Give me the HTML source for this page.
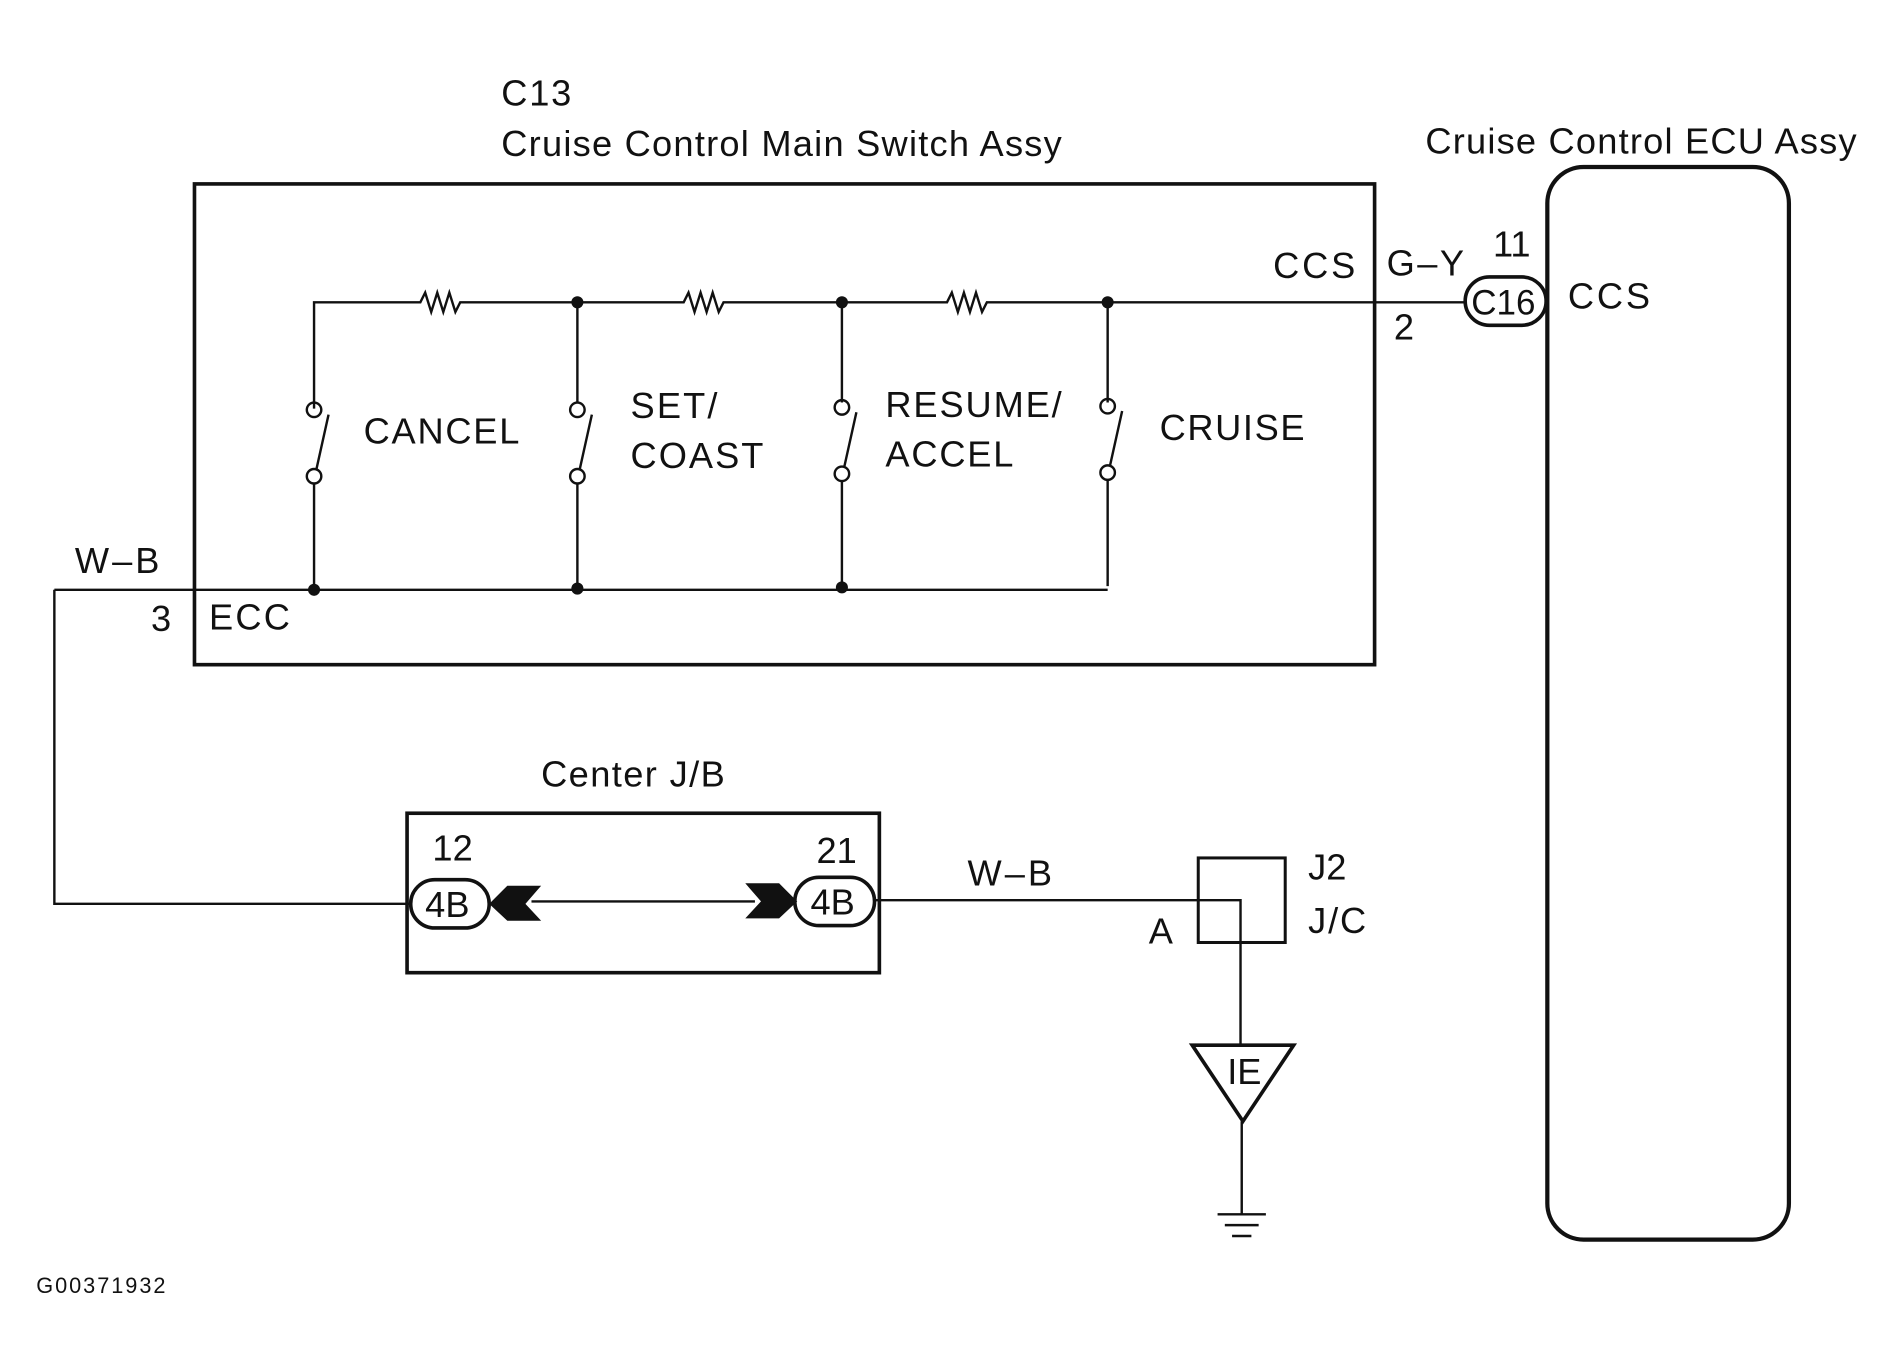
<!DOCTYPE html>
<html><head><meta charset="utf-8"><style>
html,body{margin:0;padding:0;background:#fff;}
svg{display:block;}
text{font-family:"Liberation Sans",sans-serif;fill:#111;}
</style></head><body>
<svg width="1894" height="1368" viewBox="0 0 1568 1132" xmlns="http://www.w3.org/2000/svg">
<g stroke="#111" fill="none" stroke-width="2">
<rect x="161" y="152" width="977" height="398" stroke-width="3"/>
<rect x="1281" y="138" width="200" height="888" rx="30" stroke-width="3.5"/>
<path d="M260 338 V250 H348 l4 -8 l5 16 l5 -16 l5 16 l5 -16 l5 16 l4 -8 H566 l4 -8 l5 16 l5 -16 l5 16 l5 -16 l5 16 l4 -8 H784 l4 -8 l5 16 l5 -16 l5 16 l5 -16 l5 16 l4 -8 H1213"/>
<path d="M478 250 V333 M697 250 V333 M917 250 V333"/>
<circle cx="260" cy="339" r="6"/><circle cx="260" cy="394" r="6"/><path d="M262 388 L272 343 M260 400 V487"/>
<circle cx="478" cy="339" r="6"/><circle cx="478" cy="394" r="6"/><path d="M480 388 L490 343 M478 400 V487"/>
<circle cx="697" cy="337" r="6"/><circle cx="697" cy="392" r="6"/><path d="M699 386 L709 341 M697 398 V487"/>
<circle cx="917" cy="336" r="6"/><circle cx="917" cy="391" r="6"/><path d="M919 385 L929 340 M917 397 V485"/>
<path d="M45 488 H917 M45 488 V748 H340"/>
<rect x="1213" y="229" width="67" height="40" rx="20" stroke-width="3"/>
<rect x="337" y="673" width="391" height="132" stroke-width="3"/>
<rect x="340" y="728" width="65" height="40" rx="20" stroke-width="3"/>
<rect x="658" y="726" width="66" height="40" rx="20" stroke-width="3"/>
<path d="M440 746 H625"/>
<path d="M724 745 H1027 V865"/>
<rect x="992" y="710" width="72" height="70" stroke-width="2.5"/>
<path d="M987 865 H1071 L1029 928 Z" stroke-width="3"/>
<path d="M1028 928 V1005 M1008 1005 H1048 M1014 1014 H1042 M1020 1023 H1036"/>
</g>
<g fill="#111">
<circle cx="478" cy="250" r="5"/><circle cx="697" cy="250" r="5"/><circle cx="917" cy="250" r="5"/>
<circle cx="260" cy="488" r="5"/><circle cx="478" cy="487" r="5"/><circle cx="697" cy="486" r="5"/>
<path d="M405 748 L420 733 H448 L435 748 L448 762 H420 Z"/>
<path d="M660 746 L645 731 H617 L630 746 L617 760 H645 Z"/>
</g>
<g font-size="30">
<text x="415" y="87" textLength="58">C13</text>
<text x="415" y="129" textLength="464">Cruise Control Main Switch Assy</text>
<text x="1180" y="127" textLength="357">Cruise Control ECU Assy</text>
<text x="301" y="367" textLength="129">CANCEL</text>
<text x="522" y="346" textLength="72">SET/</text>
<text x="522" y="387" textLength="110">COAST</text>
<text x="733" y="345" textLength="146">RESUME/</text>
<text x="733" y="386" textLength="106">ACCEL</text>
<text x="960" y="364" textLength="120">CRUISE</text>
<text x="1054" y="230" textLength="68">CCS</text>
<text x="1148" y="228" textLength="64">G–Y</text>
<text x="1236" y="212">11</text>
<text x="1154" y="281">2</text>
<text x="1218" y="260" font-size="29">C16</text>
<text x="1298" y="255" textLength="68">CCS</text>
<text x="62" y="474" textLength="70">W–B</text>
<text x="125" y="522">3</text>
<text x="173" y="521" textLength="67">ECC</text>
<text x="448" y="651" textLength="152">Center J/B</text>
<text x="358" y="712">12</text>
<text x="676" y="714">21</text>
<text x="352" y="759">4B</text>
<text x="671" y="757">4B</text>
<text x="801" y="733" textLength="70">W–B</text>
<text x="951" y="781">A</text>
<text x="1083" y="728">J2</text>
<text x="1083" y="772" textLength="48">J/C</text>
<text x="1016" y="897">IE</text>
<text x="30" y="1070" font-size="18" textLength="107">G00371932</text>
</g>
</svg>
</body></html>
